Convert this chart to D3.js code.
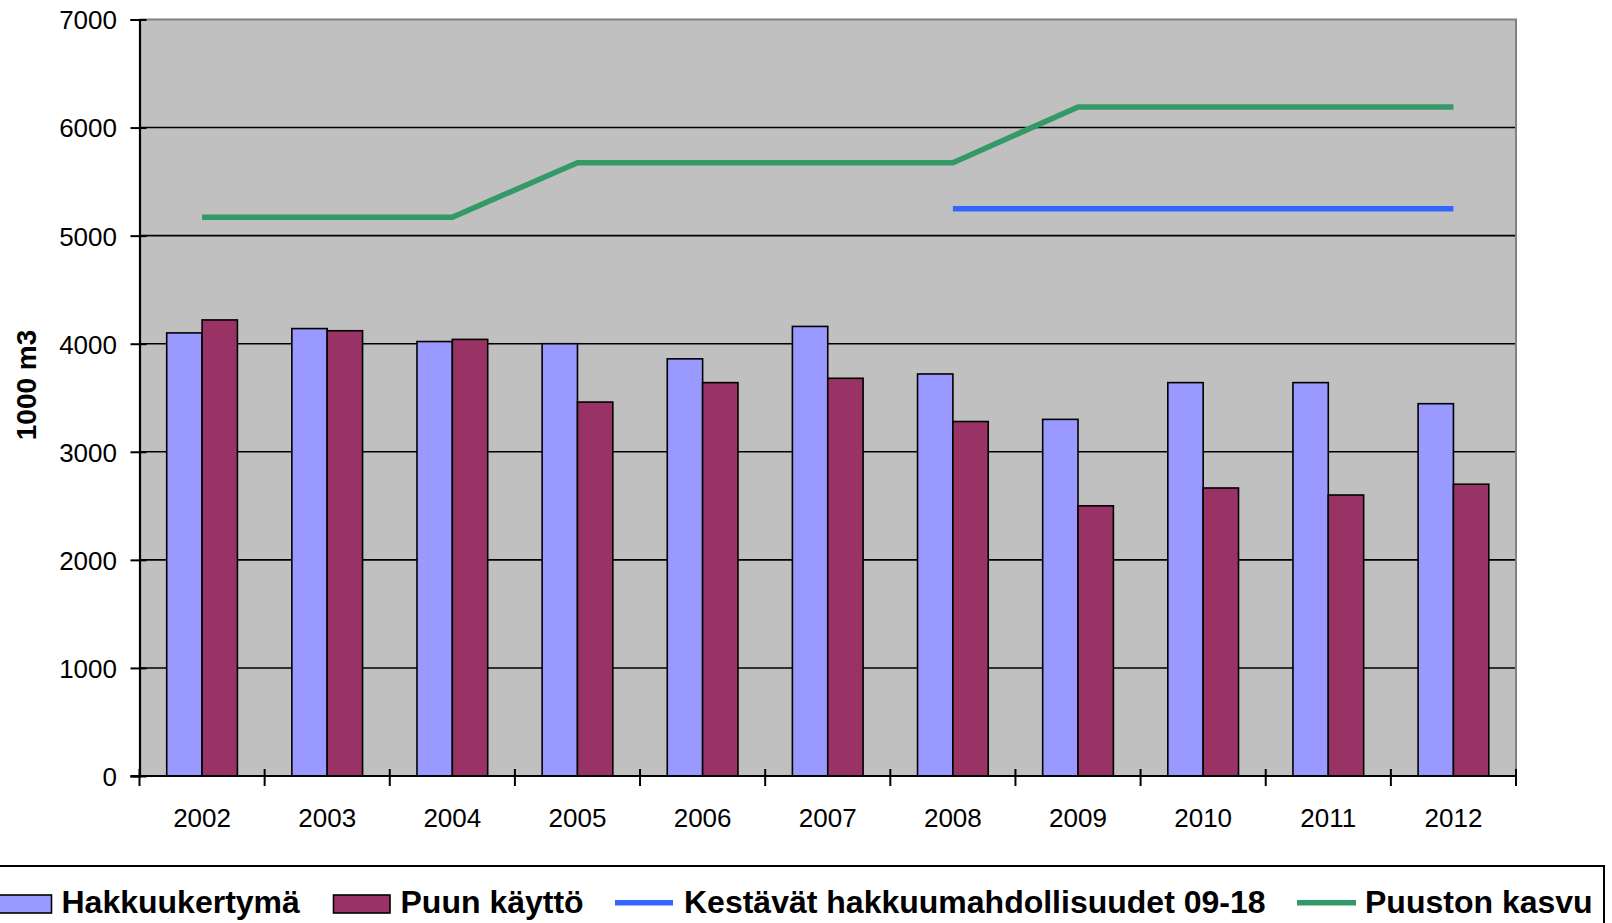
<!DOCTYPE html>
<meta charset="utf-8">
<style>
body { margin: 0; background: #fff; }
text { font-family: "Liberation Sans", Arial, sans-serif; fill: #000; }
.tick-label { font-size: 26px; }
.legend text { font-size: 32px; font-weight: bold; }
.ylabel { font-size: 28px; font-weight: bold; }
</style>
<svg width="1612" height="923"></svg>
<script src="https://d3js.org/d3.v7.min.js"></script>
<script>

var years = ["2002", "2003", "2004", "2005", "2006", "2007", "2008", "2009", "2010", "2011", "2012"];
var hakkuukertyma = [4100, 4140, 4020, 4000, 3860, 4160, 3720, 3300, 3640, 3640, 3445];
var puunKaytto = [4220, 4120, 4040, 3460, 3640, 3680, 3280, 2500, 2665, 2600, 2700];
var kestavat = [null, null, null, null, null, null, 5250, 5250, 5250, 5250, 5250];
var puustonKasvu = [5170, 5170, 5170, 5675, 5675, 5675, 5675, 6190, 6190, 6190, 6190];
var yTicks = [0, 1000, 2000, 3000, 4000, 5000, 6000, 7000];
var seriesNames = ["Hakkuukertymä", "Puun käyttö", "Kestävät hakkuumahdollisuudet 09-18", "Puuston kasvu"];
var colors = ["#9999ff", "#993366", "#3366ff", "#339966"];

var svg = d3.select("svg");
var plotLeft = 139.5, plotRight = 1516, plotTop = 19.5, plotBottom = 776;

var x0 = d3.scaleBand()
    .domain(years)
    .range([plotLeft, plotRight]);

var x1 = d3.scaleBand()
    .domain([0, 1])
    .range([0, x0.bandwidth()])
    .paddingOuter(0.77);

var y = d3.scaleLinear()
    .domain([0, 7000])
    .range([plotBottom, plotTop]);

// plot background
svg.append("rect")
    .attr("x", plotLeft)
    .attr("y", plotTop)
    .attr("width", plotRight - plotLeft)
    .attr("height", plotBottom - plotTop)
    .attr("fill", "#c0c0c0");

// gridlines
svg.append("g")
  .selectAll("line")
  .data(yTicks.filter(function(d) { return d > 0 && d < 7000; }))
  .join("line")
    .attr("x1", plotLeft)
    .attr("x2", plotRight)
    .attr("y1", function(d) { return y(d); })
    .attr("y2", function(d) { return y(d); })
    .attr("stroke", "#000")
    .attr("stroke-width", 1.6);

// top and right border
svg.append("path")
    .attr("d", "M" + plotLeft + "," + y(7000) + "H" + plotRight + "V" + plotBottom)
    .attr("fill", "none")
    .attr("stroke", "#808080")
    .attr("stroke-width", 2);

// bars
var groups = svg.append("g")
  .selectAll("g")
  .data(years)
  .join("g")
    .attr("transform", function(d) { return "translate(" + x0(d) + ",0)"; });

groups.selectAll("rect")
  .data(function(d, i) { return [hakkuukertyma[i], puunKaytto[i]]; })
  .join("rect")
    .attr("x", function(d, j) { return x1(j); })
    .attr("y", function(d) { return y(d); })
    .attr("width", x1.bandwidth())
    .attr("height", function(d) { return y(0) - y(d); })
    .attr("fill", function(d, j) { return colors[j]; })
    .attr("stroke", "#000")
    .attr("stroke-width", 1.6);

// lines
var line = d3.line()
    .defined(function(d) { return d != null; })
    .x(function(d, i) { return x0(years[i]) + x0.bandwidth() / 2; })
    .y(function(d) { return y(d); });

svg.append("path")
    .datum(puustonKasvu)
    .attr("d", line)
    .attr("fill", "none")
    .attr("stroke", colors[3])
    .attr("stroke-width", 5.5);

svg.append("path")
    .datum(kestavat)
    .attr("d", line)
    .attr("fill", "none")
    .attr("stroke", colors[2])
    .attr("stroke-width", 5.5);

// y axis
svg.append("g")
    .attr("transform", "translate(" + plotLeft + ",0)")
    .call(d3.axisLeft(y).tickValues(yTicks).tickFormat(d3.format("d")).tickSize(9).tickPadding(13.5))
    .call(function(g) {
      g.select(".domain").attr("stroke", "#000").attr("stroke-width", 2.2);
      g.selectAll(".tick line").attr("x1", 7).attr("stroke-width", 2);
      g.selectAll(".tick text")
          .attr("class", "tick-label")
          .attr("dy", "0.36em")
          .attr("font-size", null)
          .attr("font-family", null);
    })
    .attr("font-size", null)
    .attr("font-family", null);

// x axis
var xb = svg.append("g");
xb.append("line")
    .attr("x1", plotLeft - 9)
    .attr("x2", plotRight)
    .attr("y1", plotBottom)
    .attr("y2", plotBottom)
    .attr("stroke", "#000")
    .attr("stroke-width", 2);

xb.selectAll(".xt")
  .data(years.map(function(d) { return x0(d); }).concat([plotRight]))
  .join("line")
    .attr("class", "xt")
    .attr("x1", function(d) { return d; })
    .attr("x2", function(d) { return d; })
    .attr("y1", plotBottom - 7)
    .attr("y2", plotBottom + 10)
    .attr("stroke", "#000")
    .attr("stroke-width", 2);

xb.selectAll("text")
  .data(years)
  .join("text")
    .attr("class", "tick-label")
    .attr("x", function(d) { return x0(d) + x0.bandwidth() / 2; })
    .attr("y", 827)
    .attr("text-anchor", "middle")
    .text(function(d) { return d; });

// y label
svg.append("text")
    .attr("class", "ylabel")
    .attr("transform", "translate(36,385) rotate(-90)")
    .attr("text-anchor", "middle")
    .text("1000 m3");

// legend
var legend = svg.append("g").attr("class", "legend");
legend.append("rect")
    .attr("x", -10)
    .attr("y", 866)
    .attr("width", 1614)
    .attr("height", 80)
    .attr("fill", "#fff")
    .attr("stroke", "#000")
    .attr("stroke-width", 2);

var legendItems = [
  {type: "rect", x0: -5, x1: 51.5, tx: 61.5},
  {type: "rect", x0: 333.5, x1: 390, tx: 400.5},
  {type: "line", x0: 615, x1: 673, tx: 684},
  {type: "line", x0: 1297, x1: 1356, tx: 1365}
];

legendItems.forEach(function(it, i) {
  if (it.type === "rect") {
    legend.append("rect")
        .attr("x", it.x0)
        .attr("y", 895)
        .attr("width", it.x1 - it.x0)
        .attr("height", 18)
        .attr("fill", colors[i])
        .attr("stroke", "#000")
        .attr("stroke-width", 1.6);
  } else {
    legend.append("line")
        .attr("x1", it.x0)
        .attr("x2", it.x1)
        .attr("y1", 902.7)
        .attr("y2", 902.7)
        .attr("stroke", colors[i])
        .attr("stroke-width", 5.5);
  }
  legend.append("text")
      .attr("x", it.tx)
      .attr("y", 913)
      .text(seriesNames[i]);
});

</script>
